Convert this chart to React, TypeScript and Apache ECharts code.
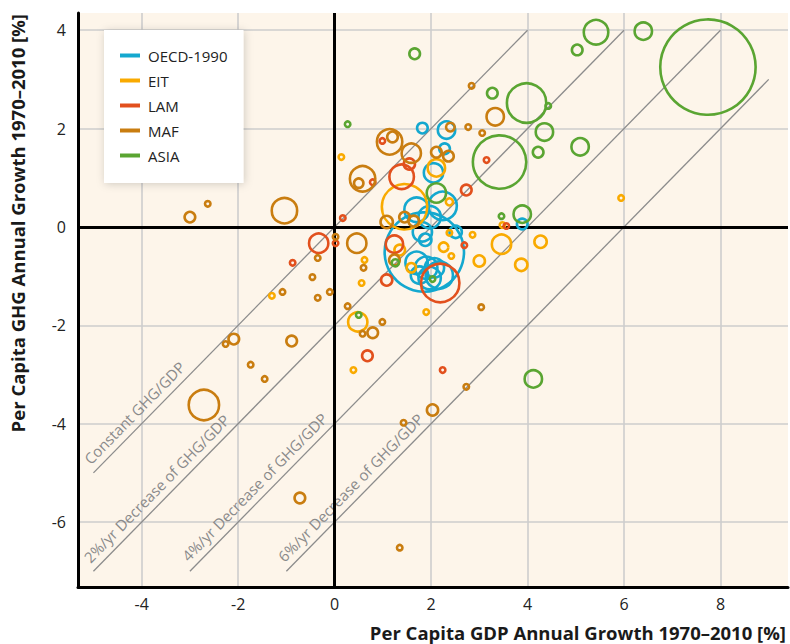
import React, { useEffect, useRef } from "react";
import * as echarts from "echarts";

// Region names and colours
const groups = ["OECD-1990", "EIT", "LAM", "MAF", "ASIA"];
const groupColors = ["#14a8cf", "#f9aa00", "#e2501d", "#c97d10", "#5aa532"];

// Each point: [per capita GDP growth %, per capita GHG growth %, relative emissions]
const oecd = [
  [1.82, 2.01, 11], [2.32, 1.97, 25], [2.28, 1.59, 11], [2.05, 1.1, 30],
  [1.7, 0.35, 46], [2.24, 0.43, 60], [1.97, 0.2, 39], [1.82, -0.1, 30],
  [2.51, -0.1, 14], [1.86, -0.51, 420], [1.7, -0.73, 39], [1.9, -0.83, 39],
  [2.07, -0.83, 30], [1.97, -1.04, 39], [2.17, -0.98, 56], [1.76, -0.98, 25],
  [3.89, 0.06, 11], [1.88, -0.26, 14],
];
const eit = [
  [0.14, 1.42, 4], [2.11, 1.2, 25], [1.45, 0.41, 144], [2.38, 0.51, 6],
  [2.86, -0.16, 4], [3.0, -0.69, 12], [3.46, -0.35, 30], [3.87, -0.77, 14],
  [4.27, -0.3, 14], [3.48, 0.04, 4], [2.42, -0.59, 4], [2.38, -0.12, 4],
  [5.94, 0.59, 4], [1.9, -1.73, 4], [0.62, -0.67, 4], [0.56, -1.14, 4],
  [-1.3, -1.4, 4], [0.48, -1.93, 30], [0.39, -2.91, 4], [1.35, -0.47, 11],
  [2.26, -0.41, 9], [1.59, -0.83, 9],
];
const lam = [
  [0.99, 1.75, 3], [0.79, 0.91, 4], [1.39, 1.02, 46], [1.55, 1.28, 12],
  [3.15, 1.36, 3], [2.73, 0.75, 11], [0.17, 0.18, 4], [-0.33, -0.33, 30],
  [0.02, -0.33, 4], [-0.87, -0.73, 4], [1.08, -1.08, 12], [1.24, -0.35, 25],
  [2.19, -1.14, 105], [2.69, -0.37, 3], [3.56, 0.02, 3], [0.68, -2.62, 11],
  [2.24, -2.91, 4],
];
const maf = [
  [-3.0, 0.2, 11], [-2.63, 0.47, 4], [-1.04, 0.33, 49], [1.14, 1.73, 49],
  [1.2, 1.83, 11], [0.58, 0.98, 49], [0.5, 0.89, 9], [1.08, 0.1, 14],
  [0.02, -0.2, 4], [0.46, -0.33, 30], [-0.35, -0.63, 4], [-0.46, -1.02, 4],
  [0.6, -0.83, 4], [-1.08, -1.32, 4], [-0.35, -1.44, 4], [-0.1, -1.32, 4],
  [0.27, -1.61, 4], [-2.26, -2.38, 3], [-2.09, -2.28, 11], [-0.89, -2.32, 11],
  [-1.74, -2.8, 4], [-1.45, -3.09, 4], [-2.71, -3.62, 68], [-0.72, -5.51, 11],
  [0.58, -2.17, 4], [0.79, -2.15, 11], [0.99, -1.93, 4], [1.35, -6.52, 4],
  [3.04, -1.63, 4], [2.73, -3.25, 4], [2.03, -3.72, 12], [1.43, -3.98, 4],
  [2.84, 2.87, 4], [3.33, 2.24, 25], [2.77, 2.03, 3], [3.06, 1.91, 3],
  [2.4, 2.03, 8], [2.11, 1.52, 11], [2.36, 1.44, 11], [1.59, 1.5, 30],
  [1.24, -0.67, 11], [1.45, 0.2, 11], [1.64, 0.12, 11],
];
const asia = [
  [0.27, 2.09, 3], [1.66, 3.52, 11], [5.42, 3.96, 46], [5.03, 3.6, 11],
  [6.4, 3.98, 25], [7.74, 3.25, 600], [3.27, 2.72, 11], [3.98, 2.52, 110],
  [4.43, 2.46, 3], [4.35, 1.93, 25], [4.22, 1.52, 11], [5.09, 1.63, 25],
  [3.42, 1.32, 196], [2.11, 0.69, 30], [3.89, 0.26, 25], [3.46, 0.22, 3],
  [0.5, -1.79, 3], [4.12, -3.09, 25], [1.26, -0.73, 6], [2.03, -1.06, 4],
];
const groupData = [oecd, eit, lam, maf, asia];

// Reference lines of constant / decreasing GHG intensity: y = x - rate
const refNames = [
  "Constant GHG/GDP",
  "2%/yr Decrease of GHG/GDP",
  "4%/yr Decrease of GHG/GDP",
  "6%/yr Decrease of GHG/GDP",
];
const refRates = [0, 2, 4, 6];
const refFrom = [-5, -5, -3, -1];
const refTo = [4, 6, 8, 9];
const refLabelAt = [-3.96, -3.5, -1.47, 0.52];

const xTitle = "Per Capita GDP Annual Growth 1970\u20132010 [%]";
const yTitle = "Per Capita GHG Annual Growth 1970\u20132010 [%]";

const FONT = "'Open Sans', 'Noto Sans', sans-serif";

export default function App() {
  const ref = useRef<HTMLDivElement>(null);

  useEffect(() => {
    if (!ref.current) return;
    const chart = echarts.init(ref.current, undefined, { renderer: "svg" });

    const evenLabel = (v: number) => {
      const r = Math.round(v);
      return Math.abs(v - r) < 1e-6 && r % 2 === 0 ? String(r) : "";
    };

    const scatterSeries = groups.map((g, i) => ({
      name: g,
      type: "scatter",
      z: 5,
      data: groupData[i],
      symbol: "circle",
      symbolSize: (val: number[]) => Math.max(5.5, Math.sqrt(val[2]) * 4 - 2.6),
      itemStyle: {
        color: "rgba(0,0,0,0)",
        borderColor: groupColors[i],
        borderWidth: 2.6,
        opacity: 1,
      },
      emphasis: { disabled: true },
      silent: true,
    }));

    const refSeries = refRates.map((k, i) => ({
      name: refNames[i],
      type: "line",
      z: 2,
      silent: true,
      symbol: "none",
      data: [
        [refFrom[i], refFrom[i] - k],
        [refTo[i], refTo[i] - k],
      ],
      lineStyle: { color: "#8c8c8c", width: 1.3 },
      ...(i === 0
        ? {
            markLine: {
              silent: true,
              symbol: "none",
              label: { show: false },
              animation: false,
              lineStyle: { color: "#000", width: 3, type: "solid" },
              data: [{ xAxis: 0 }, { yAxis: 0 }],
            },
          }
        : {}),
    }));

    chart.setOption({
      animation: false,
      textStyle: { fontFamily: FONT },
      grid: {
        left: 78,
        right: 2,
        top: 13,
        bottom: 57,
        show: true,
        backgroundColor: "#fdf5ea",
        borderWidth: 0,
      },
      legend: {
        data: groups.map((g, i) => ({
          name: g,
          itemStyle: { color: groupColors[i], borderWidth: 0 },
        })),
        orient: "vertical",
        left: 104,
        top: 30,
        icon: "rect",
        itemWidth: 20,
        itemHeight: 4,
        itemGap: 10,
        padding: [18, 16, 20, 16],
        backgroundColor: "#ffffff",
        shadowBlur: 8,
        shadowColor: "rgba(0,0,0,0.18)",
        shadowOffsetX: 1,
        shadowOffsetY: 1,
        selectedMode: false,
        textStyle: { fontFamily: FONT, fontSize: 15, color: "#222", padding: [0, 0, 0, 3] },
      },
      xAxis: {
        type: "value",
        min: -5.32,
        max: 9.4,
        splitNumber: 7,
        minInterval: 2,
        maxInterval: 2,
        axisLine: { show: true, onZero: false, lineStyle: { color: "#000", width: 3 } },
        axisTick: { show: false },
        axisLabel: {
          formatter: evenLabel,
          showMinLabel: false,
          showMaxLabel: false,
          margin: 9,
          fontSize: 16,
          color: "#222",
          fontFamily: FONT,
        },
        splitLine: {
          show: true,
          showMinLine: false,
          showMaxLine: false,
          lineStyle: { color: "#cdcdcd", width: 1.6 },
        },
      },
      yAxis: {
        type: "value",
        min: -7.32,
        max: 4.35,
        splitNumber: 6,
        minInterval: 2,
        maxInterval: 2,
        axisLine: { show: true, onZero: false, lineStyle: { color: "#000", width: 3 } },
        axisTick: { show: false },
        axisLabel: {
          formatter: evenLabel,
          showMinLabel: false,
          showMaxLabel: false,
          margin: 12,
          fontSize: 16,
          color: "#222",
          fontFamily: FONT,
        },
        splitLine: {
          show: true,
          showMinLine: false,
          showMaxLine: false,
          lineStyle: { color: "#cdcdcd", width: 1.6 },
        },
      },
      series: [...refSeries, ...scatterSeries],
    });

    // Labels along the reference lines, positioned through the axes
    const p0 = chart.convertToPixel({ gridIndex: 0 }, [0, 0]) as number[];
    const p1 = chart.convertToPixel({ gridIndex: 0 }, [1, 1]) as number[];
    const ang = Math.atan2(p0[1] - p1[1], p1[0] - p0[0]);
    const nx = -Math.sin(ang);
    const ny = -Math.cos(ang);
    const off = 13;
    const refLabels = refRates.map((k, i) => {
      const p = chart.convertToPixel({ gridIndex: 0 }, [refLabelAt[i], refLabelAt[i] - k]) as number[];
      return {
        type: "text",
        x: p[0] + nx * off,
        y: p[1] + ny * off,
        rotation: ang,
        silent: true,
        z: 3,
        style: {
          text: refNames[i],
          fill: "#8a8a8a",
          fontSize: 15,
          fontFamily: FONT,
          align: "center",
          verticalAlign: "middle",
        },
      };
    });

    chart.setOption({
      graphic: [
        ...refLabels,
        {
          type: "text",
          x: 786,
          y: 632,
          silent: true,
          style: {
            text: xTitle,
            fill: "#1a1a1a",
            fontSize: 18.5,
            fontWeight: "bold",
            fontFamily: FONT,
            align: "right",
            verticalAlign: "middle",
          },
        },
        {
          type: "text",
          x: 17,
          y: 14,
          rotation: Math.PI / 2,
          silent: true,
          style: {
            text: yTitle,
            fill: "#1a1a1a",
            fontSize: 18.5,
            fontWeight: "bold",
            fontFamily: FONT,
            align: "right",
            verticalAlign: "middle",
          },
        },
      ],
    });

    return () => chart.dispose();
  }, []);

  return (
    <div
      ref={ref}
      style={{ position: "fixed", left: 0, top: 0, width: 790, height: 644, background: "#fff" }}
    />
  );
}
